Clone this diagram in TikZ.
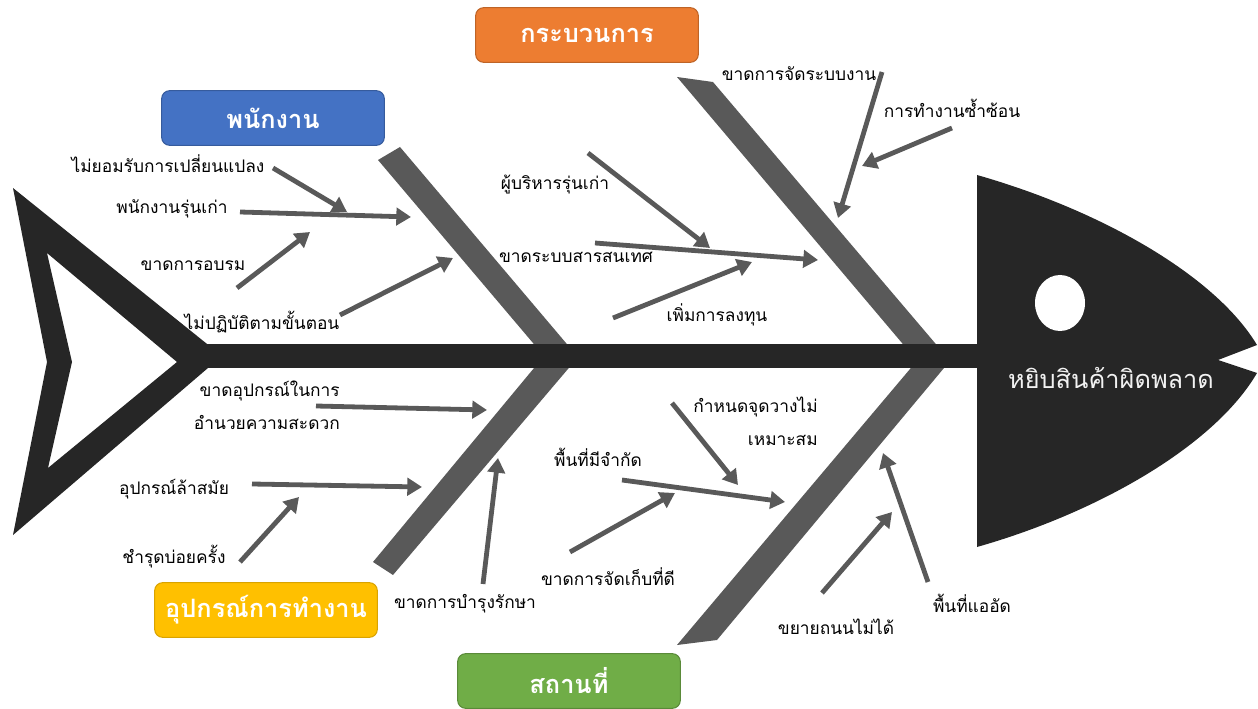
\documentclass[tikz,border=0pt]{standalone}
\usepackage{fontspec}
\newfontfamily\thaifont[Script=Thai]{Loma}
\usetikzlibrary{arrows.meta}
\definecolor{fishdark}{HTML}{262626}
\definecolor{bonegray}{HTML}{595959}
\definecolor{catblue}{HTML}{4472C4}
\definecolor{catorange}{HTML}{ED7D31}
\definecolor{catyellow}{HTML}{FFC000}
\definecolor{catgreen}{HTML}{70AD47}
\tikzset{
  lbl/.style={font=\thaifont\fontsize{13}{25}\selectfont, text=black, inner sep=0pt},
  cat/.style={rounded corners=6pt, minimum width=167pt, minimum height=41pt, inner sep=0pt,
    font=\thaifont\bfseries\fontsize{19}{21}\selectfont, text=white, line width=0.8pt},
  cause/.style={draw=bonegray, line width=3.6pt, -{Triangle[length=11pt,width=13pt]}},
  bone/.style={fill=bonegray},
}
\begin{document}
\begin{tikzpicture}[x=0.75pt,y=-0.75pt]
\useasboundingbox (0,0) rectangle (1258,709);
% bones
\fill[bone] (378,160) -- (400,147) -- (577,356) -- (544,356) -- cycle;
\fill[bone] (677,77) -- (713,82) -- (946,356) -- (913,356) -- cycle;
\fill[bone] (373,562) -- (393,575) -- (579,356) -- (544,356) -- cycle;
\fill[bone] (677,645) -- (717,640) -- (954,356) -- (921,356) -- cycle;
% spine
\fill[fishdark] (200,344) rectangle (985,368);
% tail
\fill[fishdark,even odd rule] (13,188) -- (222,356) -- (13,535) -- (47,362) -- cycle
  (47,253) -- (177,362) -- (48,468) -- (72,362) -- cycle;
% head
\fill[fishdark] (977,175) .. controls (1100,210) and (1215,275) .. (1257,345) -- (1218,360) -- (1257,373)
  .. controls (1215,445) and (1100,512) .. (977,547) -- cycle;
\fill[white] (1060,303) ellipse [x radius=18.75pt, y radius=21pt];
\node[font=\thaifont\fontsize{19}{21}\selectfont, text=white!95!black, inner sep=0pt] (effect) at (1111,378) {หยิบสินค้าผิดพลาด};
% category boxes
\node[cat, fill=catblue, draw=catblue!80!black] (c1) at (273,118) {พนักงาน};
\node[cat, fill=catorange, draw=catorange!80!black] (c2) at (587,35) {กระบวนการ};
\node[cat, fill=catyellow, draw=catyellow!85!black] (c3) at (266,610) {อุปกรณ์การทำงาน};
\node[cat, fill=catgreen, draw=catgreen!80!black] (c4) at (569,681) {สถานที่};
% labels
\node[lbl] (t1) at (168,164) {ไม่ยอมรับการเปลี่ยนแปลง};
\node[lbl] (t2) at (172,209) {พนักงานรุ่นเก่า};
\node[lbl] (t3) at (193,266) {ขาดการอบรม};
\node[lbl] (t4) at (262,322) {ไม่ปฏิบัติตามขั้นตอน};
\node[lbl] (t5) at (799,74) {ขาดการจัดระบบงาน};
\node[lbl] (t6) at (952,108) {การทำงานซ้ำซ้อน};
\node[lbl] (t7) at (555,185) {ผู้บริหารรุ่นเก่า};
\node[lbl] (t8) at (576,257) {ขาดระบบสารสนเทศ};
\node[lbl] (t9) at (717,315) {เพิ่มการลงทุน};
\node[lbl, align=right, anchor=east] (t10) at (340,405) {ขาดอุปกรณ์ในการ\\อำนวยความสะดวก};
\node[lbl] (t11) at (174,489) {อุปกรณ์ล้าสมัย};
\node[lbl] (t12) at (174,557) {ชำรุดบ่อยครั้ง};
\node[lbl] (t13) at (465,604) {ขาดการบำรุงรักษา};
\node[lbl, align=right, anchor=east] (t14) at (818,421) {กำหนดจุดวางไม่\\เหมาะสม};
\node[lbl] (t15) at (598,457) {พื้นที่มีจำกัด};
\node[lbl] (t16) at (608,577) {ขาดการจัดเก็บที่ดี};
\node[lbl] (t17) at (836,627) {ขยายถนนไม่ได้};
\node[lbl] (t18) at (972,603) {พื้นที่แออัด};
% arrow endpoints
\coordinate (a1s) at (273,168); \coordinate (a1e) at (347,212);
\coordinate (a2s) at (240,212); \coordinate (a2e) at (411,217);
\coordinate (a3s) at (237,288); \coordinate (a3e) at (310,232);
\coordinate (a4s) at (340,315); \coordinate (a4e) at (453,258);
\coordinate (a5s) at (882,72);  \coordinate (a5e) at (838,218);
\coordinate (a6s) at (952,128); \coordinate (a6e) at (862,166);
\coordinate (a7s) at (588,153); \coordinate (a7e) at (710,248);
\coordinate (a8s) at (595,243); \coordinate (a8e) at (818,260);
\coordinate (a9s) at (613,318); \coordinate (a9e) at (752,262);
\coordinate (a10s) at (316,406); \coordinate (a10e) at (487,410);
\coordinate (a11s) at (252,484); \coordinate (a11e) at (422,487);
\coordinate (a12s) at (240,562); \coordinate (a12e) at (299,497);
\coordinate (a13s) at (483,584); \coordinate (a13e) at (498,458);
\coordinate (a14s) at (672,403); \coordinate (a14e) at (738,485);
\coordinate (a15s) at (622,480); \coordinate (a15e) at (785,502);
\coordinate (a16s) at (570,552); \coordinate (a16e) at (675,493);
\coordinate (a17s) at (822,593); \coordinate (a17e) at (892,512);
\coordinate (a18s) at (928,582); \coordinate (a18e) at (883,453);
\foreach \i in {1,...,18} { \draw[cause] (a\i s) -- (a\i e); }
\end{tikzpicture}
\end{document}
